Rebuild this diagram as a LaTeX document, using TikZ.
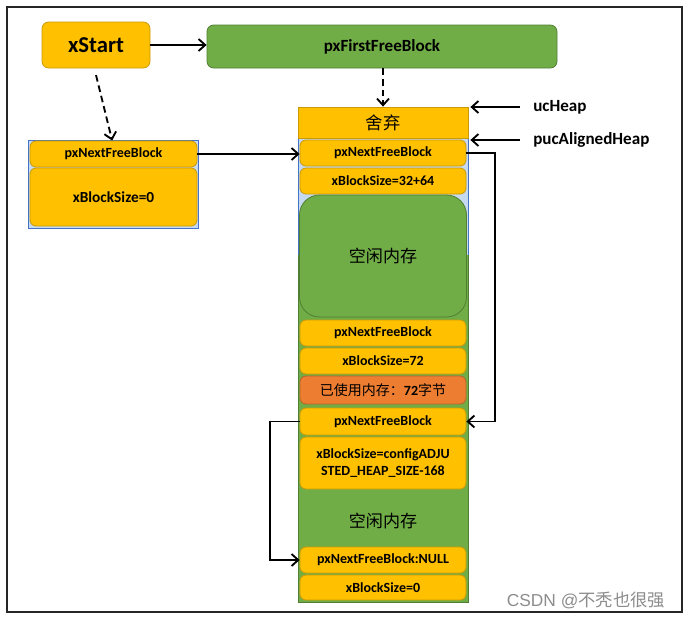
\documentclass[tikz,border=0pt]{standalone}
\usepackage{fontspec}
\setmainfont{Carlito}
\newfontfamily\cjk{Noto Sans CJK SC}
\newfontfamily\markfont{Liberation Sans}
\usetikzlibrary{arrows.meta, positioning}
\definecolor{gold}{HTML}{FFC000}
\definecolor{goldline}{HTML}{C99A06}
\definecolor{leaf}{HTML}{70AD47}
\definecolor{leafline}{HTML}{507E32}
\definecolor{rust}{HTML}{ED7D31}
\definecolor{rustline}{HTML}{B5622A}
\definecolor{sky}{HTML}{C5D9F1}
\definecolor{skyline}{HTML}{4472C4}
\tikzset{
    cell/.style={
        rectangle, rounded corners=4.5pt,
        minimum width=124.5pt, minimum height=19.5pt, inner sep=0pt,
        text centered, draw=goldline, fill=gold, line width=0.6pt,
        font=\fontsize{10.5}{13}\selectfont\bfseries
    },
    freebox/.style={
        cell, draw=leafline, fill=leaf, rounded corners=15pt,
        font=\cjk\fontsize{12.8}{15}\selectfont
    },
    ptrlabel/.style={anchor=west, inner sep=0pt, font=\fontsize{12.8}{15}\selectfont\bfseries},
    arr/.style={-{Straight Barb[length=5pt,width=9pt]}, line width=1.4pt},
    dasharr/.style={arr, dash pattern=on 5pt off 3pt}
}

\begin{document}
\begin{tikzpicture}[x=0.75pt, y=-0.75pt]
    \useasboundingbox (0,0) rectangle (686,619);
    \draw[line width=1.5pt, black!85] (7,7) rectangle (682,612);

    % Top pointers
    \node[cell, minimum width=81pt, minimum height=34.5pt, rounded corners=5pt,
          font=\fontsize{17}{20}\selectfont\bfseries] (xStart) at (96,45) {xStart};
    \node[cell, draw=leafline, fill=leaf, minimum width=262.5pt, minimum height=32.25pt,
          rounded corners=5pt, font=\fontsize{12.8}{15}\selectfont\bfseries] (firstFree) at (382,46.5) {pxFirstFreeBlock};

    % Start block
    \draw[skyline, fill=sky] (28,140) rectangle (198,228);
    \node[cell, minimum width=125.25pt] (leftNext) at (113.5,154) {pxNextFreeBlock};
    \node[cell, minimum width=125.25pt, minimum height=43.5pt,
          font=\fontsize{11.5}{14}\selectfont\bfseries] (leftSize) at (113.5,197) {xBlockSize=0};

    % Heap column
    \draw[leafline, fill=leaf] (298,138) rectangle (468,602);
    \fill[sky] (298,138) rectangle (468,255);
    \draw[skyline] (298,255) -- (298,138) -- (468,138) -- (468,255);
    \node[rectangle, draw=goldline, fill=gold, line width=0.6pt, minimum width=127.5pt,
          minimum height=23.25pt, font=\cjk\fontsize{13}{15}\selectfont] (discard) at (383,122.5) {舍弃};

    \node[cell] (nextA) at (383,153) {pxNextFreeBlock};
    \node[cell] (sizeA) at (383,181) {xBlockSize=32+64};
    \node[freebox, minimum width=125.25pt, minimum height=91.5pt] (freeA) at (383,256) {空闲内存};
    \node[cell] (nextB) at (383,333) {pxNextFreeBlock};
    \node[cell] (sizeB) at (383,361) {xBlockSize=72};
    \node[cell, draw=rustline, fill=rust, minimum height=21pt,
          font=\cjk\fontsize{10.5}{13}\selectfont] (used) at (383,390) {已使用内存：{\rmfamily\bfseries 72}字节};
    \node[cell, minimum height=20.25pt] (nextC) at (383,421.5) {pxNextFreeBlock};
    \node[cell, minimum height=39pt, align=center] (sizeC) at (383,463) {xBlockSize=configADJU\\STED\_HEAP\_SIZE-168};
    \node[font=\cjk\fontsize{12.8}{15}\selectfont] (freeB) at (383,521) {空闲内存};
    \node[cell] (nextD) at (383,560) {pxNextFreeBlock:NULL};
    \node[cell, minimum height=18.75pt] (sizeD) at (383,587.5) {xBlockSize=0};

    % Heap labels
    \node[ptrlabel] (ucHeap) at (533,107) {ucHeap};
    \node[ptrlabel] (alignedHeap) at (533,140) {pucAlignedHeap};

    % Links
    \draw[arr] (xStart) -- (xStart -| firstFree.west);
    \draw[dasharr] (discard.north |- firstFree.south) -- (discard.north);
    \draw[dasharr] ([yshift=-5pt]xStart.south) -- ([xshift=-1pt]leftNext.north);
    \draw[arr] (leftNext.east) -- (leftNext.east -| nextA.west);
    \draw[arr, shorten >=1.5pt] ([xshift=-10pt]ucHeap.west) -- (ucHeap.west -| discard.east);
    \draw[arr, shorten >=1.5pt] ([xshift=-10pt]alignedHeap.west) -- (alignedHeap.west -| discard.east);
    \draw[arr] (nextA.east) -- ++(29,0) |- (nextC.east);
    \draw[arr] (nextC.west) -- ++(-30,0) |- (nextD.west);

    \node[font=\markfont\fontsize{13}{15}\selectfont, text=black!45] (mark) at (586,600) {CSDN @{\cjk 不秃也很强}};
\end{tikzpicture}
\end{document}
